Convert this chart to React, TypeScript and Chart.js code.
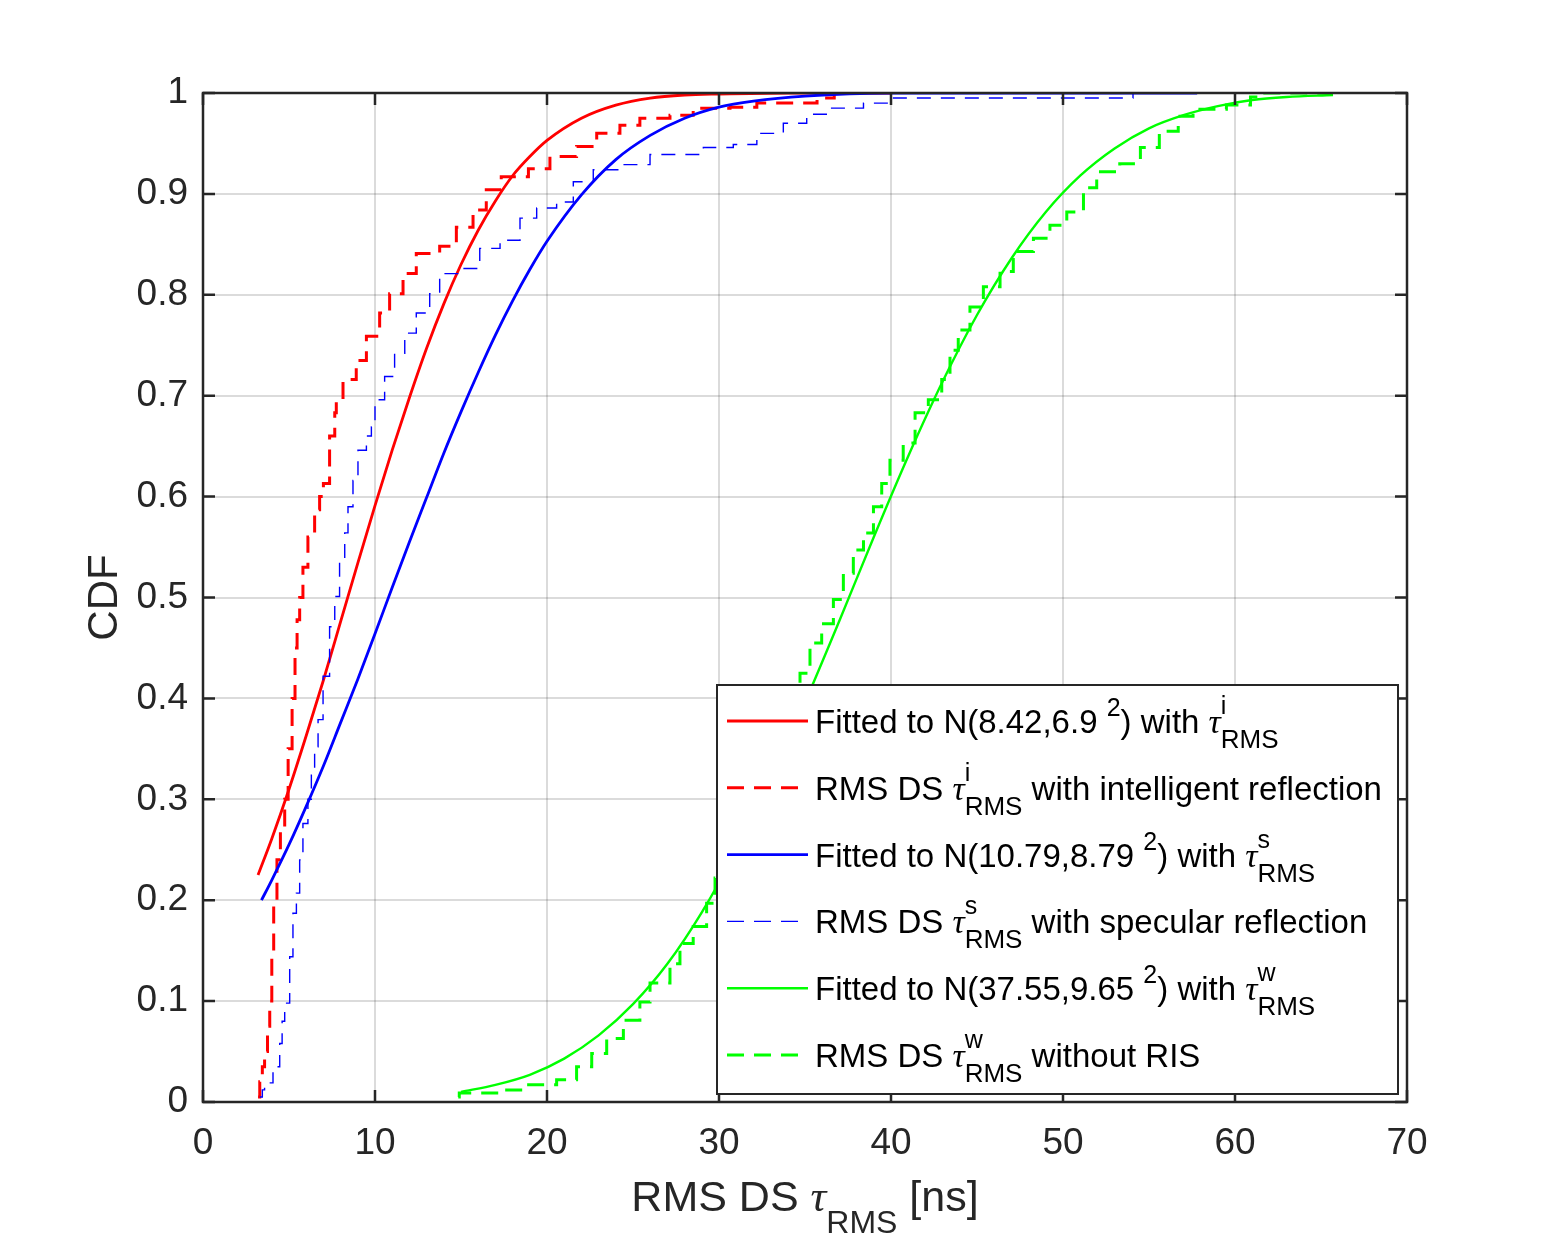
import { useEffect, useRef } from "react";
import { Chart, registerables } from "chart.js";

Chart.register(...registerables);

// axis ticks
const xTickValues = [0, 10, 20, 30, 40, 50, 60, 70];
const yTickValues = [0, 0.1, 0.2, 0.3, 0.4, 0.5, 0.6, 0.7, 0.8, 0.9, 1];
const yTickLabels = ["0", "0.1", "0.2", "0.3", "0.4", "0.5", "0.6", "0.7", "0.8", "0.9", "1"];

// fitted normal CDF, intelligent reflection
const redFitX = [3.2, 4, 5, 6, 7, 8, 9, 10, 11, 12, 13, 14, 15, 16, 17, 18, 19, 20, 22, 24, 26, 28, 30, 34, 40];
const redFitY = [0.225, 0.261, 0.31, 0.363, 0.418, 0.476, 0.534, 0.591, 0.646, 0.698, 0.747, 0.791, 0.83, 0.864, 0.893, 0.918, 0.937, 0.953, 0.975, 0.988, 0.995, 0.998, 0.999, 1, 1];

// empirical CDF, intelligent reflection
const redDsX = [3.2, 3.3, 3.45, 3.58, 3.75, 3.88, 4.0, 4.11, 4.3, 4.5, 4.75, 4.95, 5.18, 5.35, 5.47, 5.62, 5.81, 6.1, 6.49, 6.78, 7.0, 7.36, 7.66, 7.75, 8.14, 8.91, 9.5, 10.27, 10.85, 11.63, 12.4, 13.76, 14.73, 15.7, 16.47, 17.34, 18.92, 20.17, 21.72, 22.89, 24.24, 25.4, 27.15, 28.5, 30.64, 32.2, 35.7, 36.7];
const redDsY = [0.005, 0.02, 0.035, 0.05, 0.075, 0.1, 0.15, 0.2, 0.24, 0.27, 0.3, 0.35, 0.4, 0.45, 0.478, 0.5, 0.53, 0.56, 0.587, 0.6, 0.613, 0.66, 0.683, 0.696, 0.716, 0.735, 0.759, 0.782, 0.801, 0.821, 0.841, 0.848, 0.867, 0.884, 0.904, 0.917, 0.925, 0.937, 0.947, 0.96, 0.968, 0.975, 0.978, 0.985, 0.986, 0.99, 0.995, 1];

// fitted normal CDF, specular reflection
const blueFitX = [3.4, 4, 5, 6, 7, 8, 9, 10, 11, 12, 13, 14, 15, 16, 17, 18, 19, 20, 22, 24, 26, 28, 30, 32, 35, 40, 45, 50, 57.8];
const blueFitY = [0.2, 0.22, 0.255, 0.293, 0.333, 0.376, 0.419, 0.464, 0.51, 0.555, 0.599, 0.643, 0.684, 0.723, 0.76, 0.794, 0.825, 0.853, 0.899, 0.934, 0.958, 0.975, 0.986, 0.992, 0.997, 1, 1, 1, 1];

// empirical CDF, specular reflection
const blueDsX = [3.3, 3.45, 3.58, 4.07, 4.46, 4.6, 4.75, 5.04, 5.23, 5.43, 5.62, 5.81, 6.1, 6.3, 6.49, 6.69, 6.98, 7.36, 7.66, 7.94, 8.24, 8.43, 8.72, 9.01, 9.5, 9.79, 10.0, 10.56, 11.14, 11.73, 12.4, 13.18, 13.76, 14.92, 16.09, 17.27, 18.43, 19.4, 20.56, 21.53, 22.69, 24.44, 25.99, 29.09, 30.83, 32.2, 33.74, 35.1, 36.45, 38.4, 40.04, 54.07];
const blueDsY = [0.005, 0.012, 0.019, 0.035, 0.058, 0.08, 0.098, 0.144, 0.187, 0.207, 0.24, 0.276, 0.3, 0.326, 0.352, 0.379, 0.422, 0.471, 0.501, 0.537, 0.564, 0.59, 0.616, 0.646, 0.66, 0.669, 0.696, 0.719, 0.742, 0.762, 0.782, 0.801, 0.821, 0.826, 0.846, 0.854, 0.876, 0.886, 0.892, 0.912, 0.924, 0.929, 0.939, 0.946, 0.949, 0.96, 0.97, 0.979, 0.985, 0.99, 0.995, 1];

// fitted normal CDF, without RIS
const greenFitX = [15, 17, 19, 21, 23, 25, 27, 29, 31, 33, 35, 37, 39, 41, 43, 45, 47, 49, 51, 53, 55, 57, 59, 61, 63, 65.7];
const greenFitY = [0.01, 0.017, 0.027, 0.043, 0.066, 0.097, 0.137, 0.188, 0.249, 0.319, 0.396, 0.477, 0.56, 0.64, 0.714, 0.78, 0.836, 0.882, 0.918, 0.945, 0.965, 0.978, 0.987, 0.993, 0.996, 0.998];

// empirical CDF, without RIS
const greenDsX = [14.84, 14.9, 17.46, 18.82, 20.56, 21.72, 22.6, 23.47, 24.44, 25.4, 25.99, 27.15, 27.73, 28.5, 29.28, 29.77, 30.8, 31.9, 33.0, 34.0, 34.71, 35.29, 35.97, 36.65, 37.23, 37.81, 38.4, 38.98, 39.46, 39.94, 40.71, 41.4, 42.17, 42.95, 43.43, 43.91, 44.59, 45.37, 46.34, 47.11, 48.28, 49.24, 50.22, 51.19, 51.96, 53.3, 54.5, 55.6, 56.7, 57.56, 59.5, 60.9, 61.6, 65.5];
const greenDsY = [0.005, 0.009, 0.012, 0.017, 0.022, 0.035, 0.048, 0.063, 0.081, 0.099, 0.118, 0.137, 0.157, 0.174, 0.197, 0.222, 0.26, 0.3, 0.34, 0.39, 0.425, 0.455, 0.474, 0.498, 0.524, 0.547, 0.564, 0.59, 0.613, 0.636, 0.653, 0.683, 0.696, 0.716, 0.745, 0.765, 0.788, 0.808, 0.823, 0.843, 0.856, 0.869, 0.882, 0.906, 0.922, 0.93, 0.946, 0.962, 0.977, 0.984, 0.988, 0.996, 1, 1];

const SANS = '"Liberation Sans", Arial, Helvetica, sans-serif';
const SERIF = '"Liberation Serif", "DejaVu Serif", serif';
const AXIS_COLOR = "#262626";

type Part = { text: string; size: number; dy: number; italic?: boolean; keepX?: boolean };

function fitLabel(params: string, who: string): Part[] {
  return [
    { text: `Fitted to N(${params} `, size: 33, dy: 0 },
    { text: "2", size: 25, dy: -17 },
    { text: ") with ", size: 33, dy: 0 },
    { text: "τ", size: 34, dy: 0, italic: true },
    { text: who, size: 25, dy: -19, keepX: true },
    { text: "RMS", size: 26, dy: 15 },
  ];
}

function dsLabel(who: string, rest: string): Part[] {
  return [
    { text: "RMS DS ", size: 33, dy: 0 },
    { text: "τ", size: 34, dy: 0, italic: true },
    { text: who, size: 25, dy: -19, keepX: true },
    { text: "RMS", size: 26, dy: 15 },
    { text: rest, size: 33, dy: 0 },
  ];
}

const legendRows = [
  { color: "#ff0000", dash: [] as number[], width: 2.8, parts: fitLabel("8.42,6.9", "i") },
  { color: "#ff0000", dash: [17, 10], width: 3, parts: dsLabel("i", " with intelligent reflection") },
  { color: "#0000ff", dash: [] as number[], width: 2.8, parts: fitLabel("10.79,8.79", "s") },
  { color: "#0000ff", dash: [17, 10], width: 1.4, parts: dsLabel("s", " with specular reflection") },
  { color: "#00ff00", dash: [] as number[], width: 2.4, parts: fitLabel("37.55,9.65", "w") },
  { color: "#00ff00", dash: [17, 10], width: 3, parts: dsLabel("w", " without RIS") },
];

function partFont(p: Part) {
  return p.italic ? `italic ${p.size}px ${SERIF}` : `${p.size}px ${SANS}`;
}

function richWidth(ctx: CanvasRenderingContext2D, parts: Part[]) {
  let w = 0;
  for (const p of parts) {
    ctx.font = partFont(p);
    if (!p.keepX) w += ctx.measureText(p.text).width;
  }
  return w;
}

function drawRich(ctx: CanvasRenderingContext2D, x: number, y: number, parts: Part[]) {
  let cx = x;
  ctx.textAlign = "left";
  ctx.textBaseline = "alphabetic";
  for (const p of parts) {
    ctx.font = partFont(p);
    ctx.fillText(p.text, cx, y + p.dy);
    if (!p.keepX) cx += ctx.measureText(p.text).width;
  }
}

const toPoints = (xs: number[], ys: number[]) => xs.map((x, i) => ({ x, y: ys[i] }));

const framePlugin = {
  id: "matlabFrame",
  afterDraw(chart: any) {
    const ctx: CanvasRenderingContext2D = chart.ctx;
    const { left, right, top, bottom } = chart.chartArea;
    const xs = chart.scales.x;
    const ys = chart.scales.y;
    ctx.save();

    // axes box with inward ticks
    ctx.strokeStyle = AXIS_COLOR;
    ctx.lineWidth = 2.5;
    ctx.setLineDash([]);
    ctx.strokeRect(left, top, right - left, bottom - top);
    ctx.beginPath();
    for (const v of xTickValues) {
      const px = xs.getPixelForValue(v);
      ctx.moveTo(px, bottom);
      ctx.lineTo(px, bottom - 12);
      ctx.moveTo(px, top);
      ctx.lineTo(px, top + 12);
    }
    for (const v of yTickValues) {
      const py = ys.getPixelForValue(v);
      ctx.moveTo(left, py);
      ctx.lineTo(left + 12, py);
      ctx.moveTo(right, py);
      ctx.lineTo(right - 12, py);
    }
    ctx.stroke();

    // legend box
    const lx = 717, ly = 685, lw = 681, lh = 409;
    ctx.fillStyle = "#ffffff";
    ctx.fillRect(lx, ly, lw, lh);
    ctx.strokeStyle = AXIS_COLOR;
    ctx.lineWidth = 2;
    ctx.strokeRect(lx, ly, lw, lh);
    legendRows.forEach((row, i) => {
      const cy = 721 + i * 66.8;
      ctx.strokeStyle = row.color;
      ctx.lineWidth = row.width;
      ctx.setLineDash(row.dash);
      ctx.beginPath();
      ctx.moveTo(727, cy);
      ctx.lineTo(808, cy);
      ctx.stroke();
      ctx.setLineDash([]);
      ctx.fillStyle = "#000000";
      drawRich(ctx, 815, cy + 12, row.parts);
    });

    // axis titles
    ctx.fillStyle = "#262626";
    const xTitle: Part[] = [
      { text: "RMS DS ", size: 43, dy: 0 },
      { text: "τ", size: 44, dy: 0, italic: true },
      { text: "RMS", size: 32, dy: 22 },
      { text: " [ns]", size: 43, dy: 0 },
    ];
    const tw = richWidth(ctx, xTitle);
    drawRich(ctx, (left + right) / 2 - tw / 2, 1211, xTitle);

    ctx.translate(105, (top + bottom) / 2);
    ctx.rotate(-Math.PI / 2);
    ctx.font = `42px ${SANS}`;
    ctx.textAlign = "center";
    ctx.textBaseline = "middle";
    ctx.fillText("CDF", 0, 0);
    ctx.restore();
  },
};

export default function App() {
  const canvasRef = useRef<HTMLCanvasElement | null>(null);
  const chartRef = useRef<Chart | null>(null);

  useEffect(() => {
    if (!canvasRef.current) return;
    const ctx = canvasRef.current.getContext("2d");
    if (!ctx) return;
    if (chartRef.current) chartRef.current.destroy();

    const series = [
      { data: toPoints(redFitX, redFitY), color: "#ff0000", width: 2.8, dash: [] as number[], stepped: false },
      { data: toPoints(redDsX, redDsY), color: "#ff0000", width: 3, dash: [17, 10], stepped: true },
      { data: toPoints(blueFitX, blueFitY), color: "#0000ff", width: 2.8, dash: [] as number[], stepped: false },
      { data: toPoints(blueDsX, blueDsY), color: "#0000ff", width: 1.4, dash: [14, 10], stepped: true },
      { data: toPoints(greenFitX, greenFitY), color: "#00ff00", width: 2.4, dash: [] as number[], stepped: false },
      { data: toPoints(greenDsX, greenDsY), color: "#00ff00", width: 3, dash: [17, 10], stepped: true },
    ];

    chartRef.current = new Chart(ctx, {
      type: "line",
      data: {
        datasets: series.map((s, i) => ({
          data: s.data,
          borderColor: s.color,
          backgroundColor: s.color,
          borderWidth: s.width,
          borderDash: s.dash,
          stepped: s.stepped ? "before" : false,
          cubicInterpolationMode: s.stepped ? "default" : "monotone",
          pointRadius: 0,
          fill: false,
          order: 5 - i,
        })),
      } as any,
      options: {
        animation: false,
        responsive: true,
        maintainAspectRatio: false,
        devicePixelRatio: 1,
        layout: { padding: { left: 0, right: 147, top: 93, bottom: 0 } },
        plugins: { legend: { display: false }, tooltip: { enabled: false } },
        scales: {
          x: {
            type: "linear",
            min: 0,
            max: 70,
            afterFit: (scale: any) => {
              scale.height = 138;
            },
            afterBuildTicks: (scale: any) => {
              scale.ticks = xTickValues.map((v) => ({ value: v }));
            },
            ticks: {
              color: AXIS_COLOR,
              font: { family: SANS, size: 37 },
              padding: 20,
              maxRotation: 0,
              callback: (v: any) => String(v),
            },
            grid: { color: "rgba(0,0,0,0.14)", lineWidth: 2, drawTicks: false },
            border: { display: false },
          },
          y: {
            type: "linear",
            min: 0,
            max: 1,
            afterFit: (scale: any) => {
              scale.width = 203;
            },
            afterBuildTicks: (scale: any) => {
              scale.ticks = yTickValues.map((v) => ({ value: v }));
            },
            ticks: {
              color: AXIS_COLOR,
              font: { family: SANS, size: 37 },
              padding: 15,
              callback: (_v: any, i: number) => yTickLabels[i],
            },
            grid: { color: "rgba(0,0,0,0.14)", lineWidth: 2, drawTicks: false },
            border: { display: false },
          },
        },
      } as any,
      plugins: [framePlugin],
    });

    return () => {
      if (chartRef.current) {
        chartRef.current.destroy();
        chartRef.current = null;
      }
    };
  }, []);

  return (
    <div style={{ position: "absolute", left: 0, top: 0, width: 1554, height: 1240, background: "#ffffff" }}>
      <canvas ref={canvasRef} />
    </div>
  );
}
